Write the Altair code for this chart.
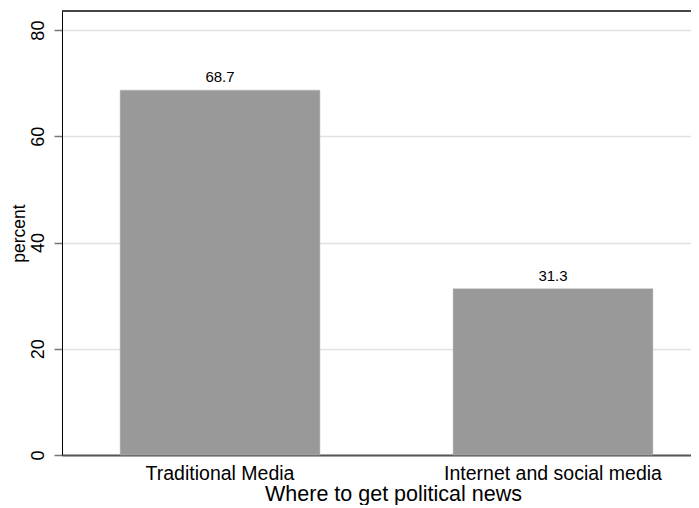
import altair as alt
import pandas as pd

categories = ["Traditional Media", "Internet and social media"]
percents = [68.7, 31.3]
bar_labels = ["68.7", "31.3"]
y_ticks = [0, 20, 40, 60, 80]

df = pd.DataFrame({"cat": categories, "pct": percents, "lab": bar_labels})

FONT = "Liberation Sans"
W, H = 629, 444
YMAX = 83.6

x_enc = alt.X(
    "cat:N",
    sort=categories,
    title="Where to get political news",
    scale=alt.Scale(paddingInner=0.4, paddingOuter=0.1445, align=0.604),
    axis=alt.Axis(
        labelAngle=0,
        labelFont=FONT,
        labelFontSize=19.5,
        labelColor="black",
        labelPadding=9,
        labelLimit=0,
        ticks=False,
        domainColor="#555555",
        domainWidth=2,
        titleFont=FONT,
        titleFontSize=21.5,
        titleFontWeight="normal",
        titleColor="black",
        titlePadding=1,
        titleX=331,
    ),
)

y_enc = alt.Y(
    "pct:Q",
    title="percent",
    scale=alt.Scale(domain=[0, YMAX], nice=False, zero=True),
    axis=alt.Axis(
        values=y_ticks,
        labelAngle=-90,
        labelAlign="center",
        labelBaseline="bottom",
        labelFont=FONT,
        labelFontSize=18,
        labelColor="black",
        labelPadding=7,
        tickSize=8,
        tickColor="#777777",
        tickWidth=1.5,
        domainColor="black",
        domainWidth=1,
        grid=True,
        gridColor="#e2e2e2",
        gridWidth=1.5,
        titleFont=FONT,
        titleFontSize=17.5,
        titleFontWeight="normal",
        titleColor="black",
        titlePadding=1,
    ),
)

bars = alt.Chart(df).mark_bar(color="#999999", stroke="#b5b5b5", strokeWidth=0.5).encode(
    x=x_enc, y=y_enc
)

text = alt.Chart(df).mark_text(
    font=FONT, fontSize=15, color="black", baseline="bottom", dy=-5
).encode(x=alt.X("cat:N", sort=categories), y=alt.Y("pct:Q"), text="lab:N")

top_line = alt.Chart(df).mark_rule(color="#444444", strokeWidth=2).encode(
    x=alt.value(0), x2=alt.value(W), y=alt.value(0)
)

chart = (
    alt.layer(bars, text, top_line)
    .properties(
        width=W,
        height=H,
        autosize=alt.AutoSizeParams(type="none"),
        padding={"left": 54, "top": 3, "right": 0, "bottom": 50},
    )
    .configure_view(stroke=None)
    .configure(background="white")
)

chart.save("out.html", embed_options={"renderer": "svg", "actions": False})
